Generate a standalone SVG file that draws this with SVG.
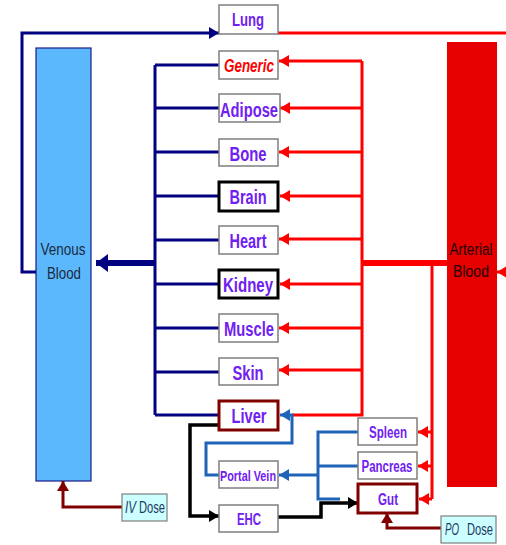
<svg xmlns="http://www.w3.org/2000/svg" width="506" height="545" viewBox="0 0 506 545">
  <style>
    .box { fill: #ffffff; stroke: #7f7f7f; stroke-width: 1.5; }
    .box-thick { fill: #ffffff; stroke: #000000; stroke-width: 3; }
    .box-liver { fill: #ffffff; stroke: #800000; stroke-width: 3; }
    .organ { font-family: "Liberation Sans", Arial, sans-serif; font-weight: bold; font-size: 20px; fill: #7020f0; text-anchor: middle; }
    .small { font-size: 16px; }
    .generic { fill: #ff0000; font-style: italic; font-size: 19px; }
    .blood { font-family: "Liberation Sans", Arial, sans-serif; font-size: 16.5px; text-anchor: middle; }
    .dose { font-family: "Liberation Sans", Arial, sans-serif; font-size: 16px; fill: #1f3864; }
    .navy { fill: none; stroke: #000080; stroke-width: 3; }
    .red { fill: none; stroke: #ff0000; stroke-width: 3; }
    .blue { fill: none; stroke: #1f64b8; stroke-width: 3; }
    .black { fill: none; stroke: #000000; stroke-width: 3.5; }
    .dred { fill: none; stroke: #800000; stroke-width: 3; }
  </style>
  <defs>
    <marker id="ah-navy" markerUnits="userSpaceOnUse" markerWidth="10" markerHeight="12" refX="10" refY="6" orient="auto"><path d="M0,0 L10,6 L0,12 z" fill="#000080"/></marker>
    <marker id="ah-navy-big" markerUnits="userSpaceOnUse" markerWidth="12" markerHeight="18" refX="12" refY="9" orient="auto"><path d="M0,0 L12,9 L0,18 z" fill="#000080"/></marker>
    <marker id="ah-red" markerUnits="userSpaceOnUse" markerWidth="10" markerHeight="12" refX="10" refY="6" orient="auto"><path d="M0,0 L10,6 L0,12 z" fill="#ff0000"/></marker>
    <marker id="ah-blue" markerUnits="userSpaceOnUse" markerWidth="10" markerHeight="12" refX="10" refY="6" orient="auto"><path d="M0,0 L10,6 L0,12 z" fill="#1f64b8"/></marker>
    <marker id="ah-black" markerUnits="userSpaceOnUse" markerWidth="10" markerHeight="12" refX="10" refY="6" orient="auto"><path d="M0,0 L10,6 L0,12 z" fill="#000000"/></marker>
    <marker id="ah-dred" markerUnits="userSpaceOnUse" markerWidth="10" markerHeight="12" refX="10" refY="6" orient="auto"><path d="M0,0 L10,6 L0,12 z" fill="#800000"/></marker>
  </defs>

  <!-- blood pools -->
  <g id="venous-blood">
    <rect x="36" y="48" width="55" height="433" fill="#5cb8fc" stroke="#1a1a8c" stroke-width="1.2"/>
    <text class="blood" x="63" y="255" fill="#1a2a40" textLength="45" lengthAdjust="spacingAndGlyphs">Venous</text>
    <text class="blood" x="64" y="279" fill="#1a2a40" textLength="34" lengthAdjust="spacingAndGlyphs">Blood</text>
  </g>
  <g id="arterial-blood">
    <rect x="447" y="42" width="50" height="445" fill="#e60000"/>
    <text class="blood" x="471" y="255" fill="#200000" textLength="43" lengthAdjust="spacingAndGlyphs">Arterial</text>
    <text class="blood" x="471" y="277" fill="#200000" textLength="36" lengthAdjust="spacingAndGlyphs">Blood</text>
  </g>

  <g id="connectors">
    <!-- venous return (navy) -->
    <path class="navy" d="M36,272 H22 V33 H219" marker-end="url(#ah-navy)"/>
    <path class="navy" d="M155,65 V415"/>
    <path class="navy" d="M155,65 H219 M155,108 H219 M155,152 H219 M155,196 H219 M155,240 H219 M155,284 H219 M155,328 H219 M155,372 H219 M155,415 H219"/>
    <path class="navy" style="stroke-width:6" d="M155,263 H96" marker-end="url(#ah-navy-big)"/>

    <!-- arterial supply (red) -->
    <path class="red" d="M278,33 H506"/>
    <path class="red" d="M362,61 V415 H292"/>
    <path class="red" style="stroke-width:6" d="M447,263 H362"/>
    <path class="red" d="M362,61 H279" marker-end="url(#ah-red)"/>
    <path class="red" d="M362,108 H280" marker-end="url(#ah-red)"/>
    <path class="red" d="M362,152 H279" marker-end="url(#ah-red)"/>
    <path class="red" d="M362,196 H280" marker-end="url(#ah-red)"/>
    <path class="red" d="M362,239 H279" marker-end="url(#ah-red)"/>
    <path class="red" d="M362,284 H280" marker-end="url(#ah-red)"/>
    <path class="red" d="M362,328 H279" marker-end="url(#ah-red)"/>
    <path class="red" d="M362,370 H279" marker-end="url(#ah-red)"/>
    <path class="red" d="M432,263 V499"/>
    <path class="red" d="M432,432 H418" marker-end="url(#ah-red)"/>
    <path class="red" d="M432,466 H418" marker-end="url(#ah-red)"/>
    <path class="red" d="M432,499 H419" marker-end="url(#ah-red)"/>
    <path class="red" d="M506,272 H497" marker-end="url(#ah-red)"/>

    <!-- splanchnic flow (blue) -->
    <path class="blue" d="M358,432 H318 V499 H340"/>
    <path class="blue" d="M358,466 H318"/>
    <path class="blue" d="M318,475 H279" marker-end="url(#ah-blue)"/>
    <path class="blue" d="M219,475 H206 V443 H292 V415 H280" marker-end="url(#ah-blue)"/>

    <!-- enterohepatic circulation (black) -->
    <path class="black" d="M219,425 H190 V516 H219" marker-end="url(#ah-black)"/>
    <path class="black" d="M278,517 H321 V503 H358" marker-end="url(#ah-black)"/>

    <!-- dosing routes -->
    <path class="dred" d="M122,507 H63 V481" marker-end="url(#ah-dred)"/>
    <path class="dred" d="M441,528 H387 V513" marker-end="url(#ah-dred)"/>
  </g>

  <!-- tissue compartments -->
  <g id="lung"><rect class="box" x="219" y="5" width="59" height="29"/><text class="organ" style="font-size:18.5px" x="248" y="26" textLength="32" lengthAdjust="spacingAndGlyphs">Lung</text></g>
  <g id="generic"><rect class="box" x="219" y="51" width="59" height="28"/><text class="organ generic" x="249" y="71.5" textLength="50" lengthAdjust="spacingAndGlyphs">Generic</text></g>
  <g id="adipose"><rect class="box" x="219" y="94" width="61" height="28"/><text class="organ" x="249" y="116.5" textLength="58" lengthAdjust="spacingAndGlyphs">Adipose</text></g>
  <g id="bone"><rect class="box" x="219" y="139" width="59" height="27"/><text class="organ" x="248" y="160.5" textLength="37" lengthAdjust="spacingAndGlyphs">Bone</text></g>
  <g id="brain"><rect class="box-thick" x="219" y="182" width="59" height="29"/><text class="organ" x="248" y="204" textLength="37" lengthAdjust="spacingAndGlyphs">Brain</text></g>
  <g id="heart"><rect class="box" x="219" y="226" width="59" height="28"/><text class="organ" x="248" y="248" textLength="37" lengthAdjust="spacingAndGlyphs">Heart</text></g>
  <g id="kidney"><rect class="box-thick" x="219" y="270" width="59" height="28"/><text class="organ" x="248" y="291.5" textLength="50" lengthAdjust="spacingAndGlyphs">Kidney</text></g>
  <g id="muscle"><rect class="box" x="219" y="314" width="59" height="28"/><text class="organ" x="249" y="335.5" textLength="50" lengthAdjust="spacingAndGlyphs">Muscle</text></g>
  <g id="skin"><rect class="box" x="219" y="358" width="59" height="27"/><text class="organ" x="248" y="379.5" textLength="31" lengthAdjust="spacingAndGlyphs">Skin</text></g>
  <g id="liver"><rect class="box-liver" x="219" y="401" width="59" height="29"/><text class="organ" x="249" y="423" textLength="35" lengthAdjust="spacingAndGlyphs">Liver</text></g>
  <g id="portal-vein"><rect class="box" x="219" y="461" width="59" height="27"/><text class="organ small" style="font-size:15px" x="248" y="481" textLength="56" lengthAdjust="spacingAndGlyphs">Portal Vein</text></g>
  <g id="ehc"><rect class="box" x="219" y="505" width="59" height="27"/><text class="organ small" x="249" y="525" textLength="24" lengthAdjust="spacingAndGlyphs">EHC</text></g>
  <g id="spleen"><rect class="box" x="358" y="418" width="59" height="27"/><text class="organ small" x="388" y="437.5" textLength="38" lengthAdjust="spacingAndGlyphs">Spleen</text></g>
  <g id="pancreas"><rect class="box" x="358" y="452" width="59" height="27"/><text class="organ small" x="387" y="471.5" textLength="51" lengthAdjust="spacingAndGlyphs">Pancreas</text></g>
  <g id="gut"><rect class="box-liver" x="358" y="484" width="59" height="29"/><text class="organ small" x="388" y="505" textLength="20" lengthAdjust="spacingAndGlyphs">Gut</text></g>

  <!-- dose inputs -->
  <g id="iv-dose">
    <rect x="122" y="494" width="45" height="27" fill="#ccffff" stroke="#7f7f7f" stroke-width="1.2"/>
    <text class="dose" x="125" y="513" font-style="italic" textLength="11" lengthAdjust="spacingAndGlyphs">IV</text>
    <text class="dose" x="139" y="513" textLength="26" lengthAdjust="spacingAndGlyphs">Dose</text>
  </g>
  <g id="po-dose">
    <rect x="441" y="516" width="55" height="27" fill="#ccffff" stroke="#7f7f7f" stroke-width="1.2"/>
    <text class="dose" x="445" y="535" font-style="italic" textLength="14" lengthAdjust="spacingAndGlyphs">PO</text>
    <text class="dose" x="467" y="535" textLength="26" lengthAdjust="spacingAndGlyphs">Dose</text>
  </g>
</svg>
